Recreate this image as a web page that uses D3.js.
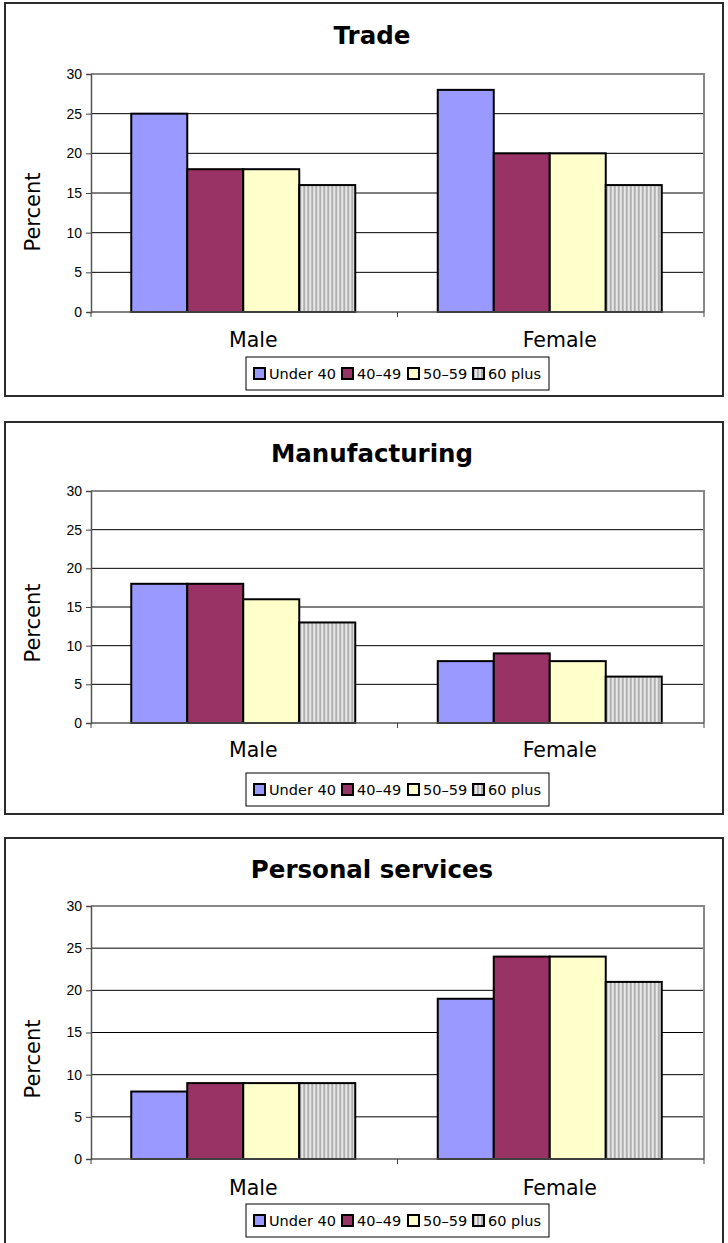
<!DOCTYPE html>
<html>
<head>
<meta charset="utf-8">
<script src="https://cdn.jsdelivr.net/npm/d3@7/dist/d3.min.js"></script>
<style>
  html, body { margin: 0; padding: 0; background: #fff; }
  svg { display: block; }
</style>
</head>
<body>
<svg id="chart" width="728" height="1243"></svg>
<script>
// Share of workers by age group, per sex, in three industries
const categories = ["Male", "Female"];
const ageGroups = ["Under 40", "40\u201349", "50\u201359", "60 plus"];
const yTicks = [0, 5, 10, 15, 20, 25, 30];
const panelTitles = ["Trade", "Manufacturing", "Personal services"];

const tradeMale = [25, 18, 18, 16];
const tradeFemale = [28, 20, 20, 16];
const manufacturingMale = [18, 18, 16, 13];
const manufacturingFemale = [8, 9, 8, 6];
const servicesMale = [8, 9, 9, 9];
const servicesFemale = [19, 24, 24, 21];

const panelValues = [
  [tradeMale, tradeFemale],
  [manufacturingMale, manufacturingFemale],
  [servicesMale, servicesFemale]
];

// Panel frames and vertical layout of each chart
const layouts = [
  { top: 3,   bottom: 396,  title: 35,  plotTop: 74,  plotBottom: 312,  cat: 340,  legTop: 357 },
  { top: 422, bottom: 814,  title: 453, plotTop: 491, plotBottom: 723,  cat: 750,  legTop: 773 },
  { top: 838, bottom: 1262, title: 869, plotTop: 906, plotBottom: 1159, cat: 1188, legTop: 1204 }
];

const plotLeft = 91, plotRight = 704;
const svg = d3.select("#chart");

// Vertical stripe fill for the oldest age group
const defs = svg.append("defs");
const pat = defs.append("pattern")
  .attr("id", "stripes")
  .attr("patternUnits", "userSpaceOnUse")
  .attr("width", 4).attr("height", 4);
pat.append("rect").attr("width", 4).attr("height", 4).attr("fill", "#e8e8e8");
pat.append("rect").attr("x", 0).attr("width", 2).attr("height", 4).attr("fill", "#b0b0b0");

const fills = ["#9999ff", "#993366", "#ffffcc", "url(#stripes)"];
const color = d3.scaleOrdinal().domain(ageGroups).range(fills);

const x0 = d3.scaleBand().domain(categories).range([plotLeft, plotRight]).paddingInner(0).paddingOuter(0);
// each category: 4 bars plus a gap of ~1.47 bar widths split on both sides
const barW = 56;
const groupOffset = (x0.bandwidth() - barW * ageGroups.length) / 2 - 1;
const x1 = d3.scaleBand().domain(ageGroups).range([0, barW * ageGroups.length]).padding(0);

layouts.forEach((L, pi) => {
  const g = svg.append("g");

  // panel frame
  g.append("rect")
    .attr("x", 5).attr("y", L.top)
    .attr("width", 718).attr("height", L.bottom - L.top)
    .attr("fill", "#fff").attr("stroke", "#2b2b2b").attr("stroke-width", 2);

  // title
  g.append("text")
    .attr("x", 372).attr("y", L.title)
    .attr("text-anchor", "middle").attr("dominant-baseline", "central")
    .attr("font-family", "DejaVu Sans").attr("font-weight", "bold")
    .attr("font-size", 24.5).attr("fill", "#000")
    .text(panelTitles[pi]);

  const y = d3.scaleLinear().domain([0, 30]).range([L.plotBottom, L.plotTop]);

  // gridlines
  g.append("g").selectAll("line")
    .data(yTicks.filter(t => t > 0 && t < 30))
    .join("line")
    .attr("x1", plotLeft).attr("x2", plotRight)
    .attr("y1", d => y(d)).attr("y2", d => y(d))
    .attr("stroke", "#000").attr("stroke-width", 1);

  // plot border (top and right)
  g.append("path")
    .attr("d", `M${plotLeft},${y(30)}H${plotRight}V${L.plotBottom}`)
    .attr("fill", "none").attr("stroke", "#888").attr("stroke-width", 2);

  // bars
  const groups = g.append("g").selectAll("g")
    .data(categories)
    .join("g")
    .attr("transform", (c) => `translate(${x0(c) + groupOffset},0)`);

  groups.selectAll("rect")
    .data((c, ci) => ageGroups.map((a, ai) => ({ a, v: panelValues[pi][ci][ai] })))
    .join("rect")
    .attr("x", d => x1(d.a))
    .attr("y", d => y(d.v))
    .attr("width", x1.bandwidth())
    .attr("height", d => y(0) - y(d.v))
    .attr("fill", d => color(d.a))
    .attr("stroke", "#000").attr("stroke-width", 2);

  // y axis
  const yAxis = d3.axisLeft(y).tickValues(yTicks).tickSize(5).tickPadding(4);
  const ya = g.append("g").attr("transform", `translate(${plotLeft},0)`).call(yAxis);
  ya.select(".domain").attr("stroke", "#555").attr("stroke-width", 1.5);
  ya.selectAll(".tick line").attr("stroke", "#444");
  ya.selectAll(".tick text")
    .attr("font-family", "Liberation Sans, Arial").attr("font-size", 14).attr("fill", "#000");

  // x axis: tick marks at category boundaries
  const xa = g.append("g");
  xa.append("line")
    .attr("x1", plotLeft).attr("x2", plotRight)
    .attr("y1", L.plotBottom).attr("y2", L.plotBottom)
    .attr("stroke", "#555").attr("stroke-width", 1.5);
  xa.selectAll("line.tk")
    .data([plotLeft, x0("Female"), plotRight])
    .join("line").attr("class", "tk")
    .attr("x1", d => d).attr("x2", d => d)
    .attr("y1", L.plotBottom).attr("y2", L.plotBottom + 5)
    .attr("stroke", "#444");
  xa.selectAll("text")
    .data(categories)
    .join("text")
    .attr("x", c => x0(c) + x0.bandwidth() / 2 + 9)
    .attr("y", L.cat)
    .attr("text-anchor", "middle").attr("dominant-baseline", "central")
    .attr("font-family", "DejaVu Sans").attr("font-size", 20.5).attr("fill", "#000")
    .text(c => c);

  // y axis title
  g.append("text")
    .attr("transform", `translate(33,${L.plotBottom - 100}) rotate(-90)`)
    .attr("text-anchor", "middle").attr("dominant-baseline", "central")
    .attr("font-family", "DejaVu Sans").attr("font-size", 21).attr("fill", "#000")
    .text("Percent");

  // legend
  const lg = g.append("g").attr("transform", `translate(246,${L.legTop})`);
  lg.append("rect")
    .attr("width", 303).attr("height", 33)
    .attr("fill", "#fff").attr("stroke", "#000").attr("stroke-width", 1);
  const itemX = [8, 96, 162, 227];
  const items = lg.selectAll("g.item")
    .data(ageGroups)
    .join("g").attr("class", "item")
    .attr("transform", (d, i) => `translate(${itemX[i]},0)`);
  items.append("rect")
    .attr("x", 0).attr("y", 11).attr("width", 11).attr("height", 11)
    .attr("fill", d => color(d)).attr("stroke", "#000").attr("stroke-width", 2);
  items.append("text")
    .attr("x", 15).attr("y", 17)
    .attr("dominant-baseline", "central")
    .attr("font-family", "DejaVu Sans").attr("font-size", 14.5).attr("fill", "#000")
    .text(d => d);
});
</script>
</body>
</html>
